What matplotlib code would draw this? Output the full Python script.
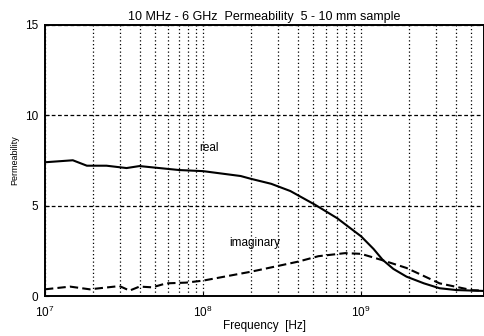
import numpy as np
import matplotlib
matplotlib.use("Agg")
import matplotlib.pyplot as plt
from matplotlib.ticker import LogLocator, NullFormatter

plt.rcParams['font.family'] = ['Liberation Sans', 'DejaVu Sans']

# real part of permeability
f_real = [1.0e7, 1.5e7, 1.84e7, 2.45e7, 3.28e7, 3.96e7, 7.07e7, 1.0e8, 1.73e8,
          2.0e8, 2.7e8, 3.57e8, 5.1e8, 7.06e8, 1.0e9, 1.2e9, 1.37e9, 1.6e9,
          1.94e9, 2.5e9, 3.14e9, 4.0e9, 5.06e9, 6.0e9]
mu_real = [7.39, 7.5, 7.2, 7.2, 7.07, 7.18, 6.96, 6.9, 6.63,
           6.48, 6.2, 5.8, 5.05, 4.3, 3.3, 2.6, 2.0, 1.5,
           1.07, 0.7, 0.43, 0.33, 0.3, 0.28]

# imaginary part of permeability
f_imag = [1.0e7, 1.44e7, 1.92e7, 2.96e7, 3.43e7, 3.96e7, 4.78e7, 5.85e7, 7.82e7,
          1.0e8, 2.03e8, 4.0e8, 5.37e8, 7.94e8, 1.0e9, 1.34e9, 1.94e9, 3.14e9, 5.06e9, 6.0e9]
mu_imag = [0.37, 0.52, 0.37, 0.55, 0.3, 0.52, 0.48, 0.7, 0.74,
           0.85, 1.35, 1.9, 2.2, 2.37, 2.33, 2.0, 1.55, 0.7, 0.32, 0.3]

fig = plt.figure(figsize=(4.84, 3.36), dpi=100)
ax = fig.add_axes([0.093, 0.119, 0.907, 0.808])

ax.plot(f_real, mu_real, color="black", lw=1.5)
ax.plot(f_imag, mu_imag, color="black", lw=1.5, ls=(0, (4, 2)))

ax.set_xscale("log")
ax.set_xlim(1e7, 6e9)
ax.set_ylim(0, 15)
ax.set_yticks([0, 5, 10, 15])
ax.xaxis.set_major_locator(LogLocator(base=10, numticks=10))
ax.xaxis.set_minor_locator(LogLocator(base=10, subs=np.arange(2, 10), numticks=20))
ax.xaxis.set_minor_formatter(NullFormatter())

ax.grid(True, which="both", axis="x", color="black", ls=(0, (1, 2)), lw=0.9)
ax.grid(True, which="major", axis="y", color="black", ls=(0, (3, 2)), lw=0.9)
ax.tick_params(direction="in", labelsize=8.5, length=3)
ax.tick_params(axis="x", pad=6)
ax.tick_params(axis="y", pad=5)
ax.tick_params(which="minor", length=0)
for s in ax.spines.values():
    s.set_linewidth(1.4)

ax.text(9.4e7, 8.0, "real", fontsize=8.5)
ax.text(1.46e8, 2.75, "imaginary", fontsize=8.5)

ax.set_title("10 MHz - 6 GHz  Permeability  5 - 10 mm sample", fontsize=9, pad=3)
ax.set_xlabel("Frequency  [Hz]", fontsize=8.5, labelpad=0)
ax.set_ylabel("Permeability", fontsize=6.5, labelpad=4)

fig.savefig("out.png", dpi=100)
